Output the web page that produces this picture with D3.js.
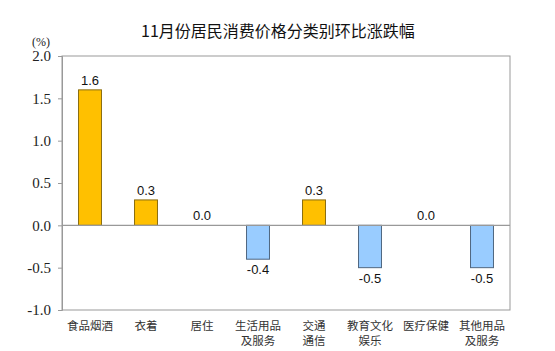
<!DOCTYPE html>
<html lang="zh">
<head>
<meta charset="UTF-8">
<title>11月份居民消费价格分类别环比涨跌幅</title>
<script src="https://d3js.org/d3.v7.min.js"></script>
<style>
    body { margin: 0; background: #fff; }
    .cat { font-family: "Noto Sans CJK SC", sans-serif; font-size: 11.5px; fill: #333; }
    .val { font-family: "Liberation Sans", Arial, sans-serif; font-size: 13px; fill: #111; }
</style>
</head>
<body>
<svg id="chart" width="555" height="351"></svg>
<script>
    // data
    const categories = [["食品烟酒"], ["衣着"], ["居住"], ["生活用品", "及服务"], ["交通", "通信"], ["教育文化", "娱乐"], ["医疗保健"], ["其他用品", "及服务"]];
    const values = [1.6, 0.3, 0.0, -0.4, 0.3, -0.5, 0.0, -0.5];
    const yTicks = [-1.0, -0.5, 0.0, 0.5, 1.0, 1.5, 2.0];

    const svg = d3.select("#chart");
    const plotL = 62, plotR = 510, plotT = 56, plotB = 310;
    const fmt = d => d.toFixed(1);

    const x = d3.scaleBand().domain(d3.range(values.length)).range([plotL, plotR]).paddingInner(0.59).paddingOuter(0.295);
    const y = d3.scaleLinear().domain([-1, 2]).range([plotB, plotT]);

    // title
    svg.append("text")
        .attr("x", 278).attr("y", 37)
        .attr("text-anchor", "middle")
        .style("font-family", "'Noto Sans CJK SC', sans-serif")
        .style("font-size", "16px")
        .style("fill", "#111")
        .text("11月份居民消费价格分类别环比涨跌幅");

    svg.append("text")
        .attr("x", 41).attr("y", 46)
        .attr("text-anchor", "middle")
        .style("font-family", "'Liberation Serif', serif")
        .style("font-size", "12px")
        .style("fill", "#222")
        .text("(%)");

    // plot frame
    svg.append("rect")
        .attr("x", plotL).attr("y", plotT)
        .attr("width", plotR - plotL).attr("height", plotB - plotT)
        .attr("fill", "none").attr("stroke", "#999").attr("stroke-width", 1);

    // y axis
    const yAxis = svg.append("g")
        .attr("transform", `translate(${plotL},0)`)
        .call(d3.axisLeft(y).tickValues(yTicks).tickFormat(fmt).tickSize(4).tickPadding(7));
    yAxis.select(".domain").attr("stroke", "#999");
    yAxis.selectAll(".tick line").attr("stroke", "#999");
    yAxis.selectAll(".tick text")
        .style("font-family", "'Liberation Serif', 'DejaVu Serif', serif")
        .style("font-size", "15px")
        .style("fill", "#222");

    // bars
    svg.selectAll(".bar")
        .data(values)
        .enter().append("rect")
        .attr("class", "bar")
        .attr("x", (d, i) => x(i))
        .attr("width", x.bandwidth())
        .attr("y", d => y(Math.max(0, d)))
        .attr("height", d => Math.abs(y(d) - y(0)))
        .attr("fill", d => d >= 0 ? "#FFC000" : "#99CCFF")
        .attr("stroke", d => d >= 0 ? "#8a6d10" : "#4f6680")
        .attr("stroke-width", 1);

    // zero line
    svg.append("line")
        .attr("x1", plotL).attr("x2", plotR)
        .attr("y1", y(0)).attr("y2", y(0))
        .attr("stroke", "#999").attr("stroke-width", 1.2);

    // value labels
    svg.selectAll(".val")
        .data(values)
        .enter().append("text")
        .attr("class", "val")
        .attr("x", (d, i) => x(i) + x.bandwidth() / 2)
        .attr("y", d => d < 0 ? y(d) + 15 : y(d) - 5)
        .attr("text-anchor", "middle")
        .text(fmt);

    // category labels
    const cat = svg.selectAll(".cat")
        .data(categories)
        .enter().append("text")
        .attr("class", "cat")
        .attr("text-anchor", "middle")
        .attr("x", (d, i) => x(i) + x.bandwidth() / 2)
        .attr("y", 330);
    cat.selectAll("tspan")
        .data(d => d)
        .enter().append("tspan")
        .attr("x", function () { return d3.select(this.parentNode).attr("x"); })
        .attr("dy", (d, i) => i === 0 ? 0 : 15)
        .text(d => d);
</script>
</body>
</html>
